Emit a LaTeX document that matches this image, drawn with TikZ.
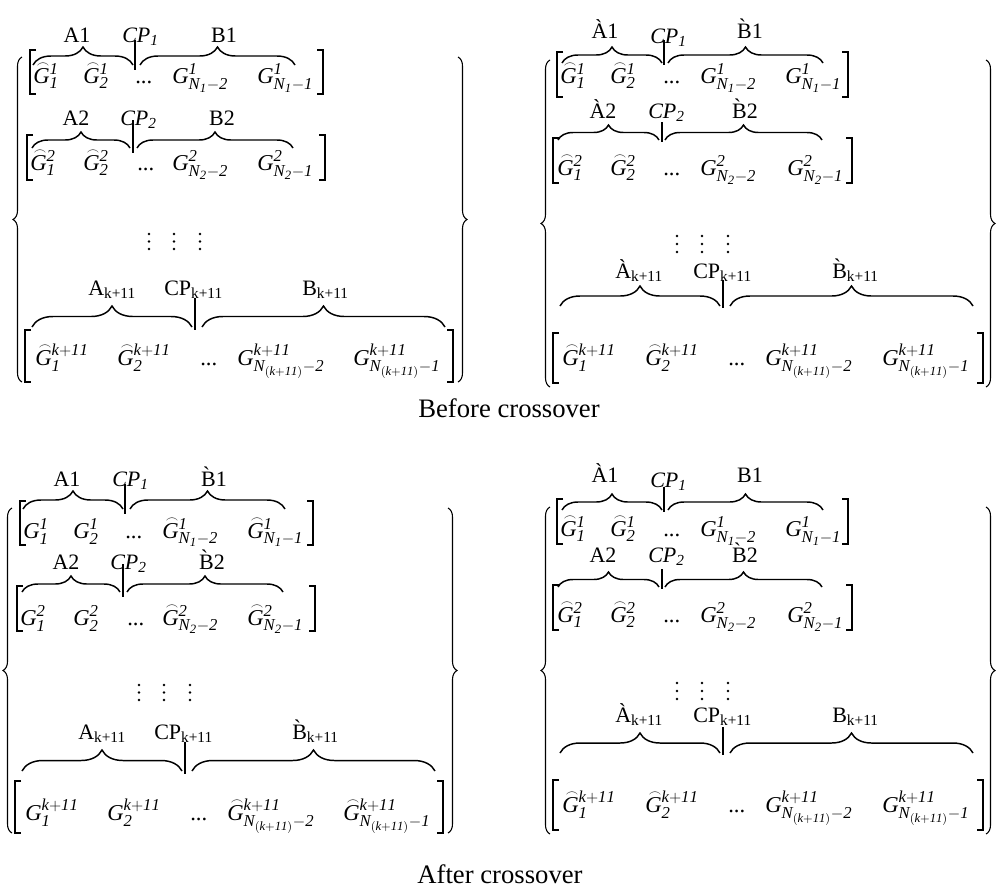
\documentclass[tikz,border=0pt]{standalone}
\usepackage{amsmath}
\usepackage{fontspec}
\setmainfont{Liberation Serif}
\usetikzlibrary{decorations.pathreplacing}
\DeclareMathSizes{17}{17}{12.5}{9.5}
\DeclareMathSizes{16.5}{16.5}{11.5}{9}
\newcommand{\mi}[1]{\mathit{#1}}
\newcommand{\pG}{\mathit{G}}
\newcommand{\hG}{\mathord{\mathit{G}\llap{\smash{\raisebox{0.7em}{$\scriptscriptstyle\frown$}}\kern0.02em}}}

\begin{document}
\begin{tikzpicture}[x=0.75pt,y=0.75pt,yscale=-1,xscale=1,
  elem/.style={inner sep=0pt, anchor=base west, font=\fontsize{17}{20}\selectfont},
  lbl/.style={inner sep=0pt, anchor=base, font=\fontsize{16.5}{19}\selectfont},
  lblw/.style={lbl, anchor=base west},
  captxt/.style={inner sep=0pt, anchor=base, font=\fontsize{20}{24}\selectfont},
  grpbrace/.style={decorate, decoration={brace, amplitude=#1}, line width=1.1pt},
  grpbrace/.default=12pt,
  bigbrace/.style={decorate, decoration={brace, amplitude=6.75pt}, line width=0.8pt},
  brk/.style={line width=1.2pt},
  cutline/.style={line width=1.1pt}]
  \useasboundingbox (0,0) rectangle (999,894);

  %%%%%%%% Before crossover, left %%%%%%%%
  \draw[bigbrace] (22,382) -- (22,57);
  \draw[bigbrace] (458,57) -- (458,382);
  % Row 1
  \draw[brk] (36,50) -- (30,50) -- (30,94) -- (36,94);
  \draw[brk] (317,50) -- (323,50) -- (323,94) -- (317,94);
  \node[elem] (tlga) at (33,83) {$\hG^{\mi1}_{\mi1}$};
  \node[elem] (tlgb) at (83,83) {$\hG^{\mi1}_{\mi2}$};
  \node[elem] (tlgc) at (135,83) {...};
  \node[elem] (tlgd) at (172,83) {$\pG^{\mi1}_{\mi{N}_{\mi1}-\mi2}$};
  \node[elem] (tlge) at (257,83) {$\pG^{\mi1}_{\mi{N}_{\mi1}-\mi1}$};
  \draw[grpbrace=13.5pt] (33,65) -- (133,65);
  \draw[grpbrace=13.5pt] (140,65) -- (295,65);
  \draw[cutline] (135,40) -- (135,70);
  \node[lbl] (tlA1) at (77,42) {A1};
  \node[lblw] (tlCP1) at (122,42) {$\mi{CP}_{\mi1}$};
  \node[lbl] (tlB1) at (224,42) {B1};
  % Row 2
  \draw[brk] (33,135) -- (27,135) -- (27,180) -- (33,180);
  \draw[brk] (319,135) -- (325,135) -- (325,180) -- (319,180);
  \node[elem] (tlha) at (30,170) {$\hG^{\mi2}_{\mi1}$};
  \node[elem] (tlhb) at (83,170) {$\hG^{\mi2}_{\mi2}$};
  \node[elem] (tlhc) at (137,170) {...};
  \node[elem] (tlhd) at (172,170) {$\pG^{\mi2}_{\mi{N}_{\mi2}-\mi2}$};
  \node[elem] (tlhe) at (257,170) {$\pG^{\mi2}_{\mi{N}_{\mi2}-\mi1}$};
  \draw[grpbrace] (32,148) -- (130,148);
  \draw[grpbrace] (137,148) -- (293,148);
  \draw[cutline] (133,120) -- (133,153);
  \node[lbl] (tlA2) at (76,125) {A2};
  \node[lblw] (tlCP2) at (120,125) {$\mi{CP}_{\mi2}$};
  \node[lbl] (tlB2) at (222,125) {B2};
  % dots
  \foreach \x in {149,174,200}
    \foreach \y in {234,241.5,249}
      \fill (\x,\y) circle (1.3);
  % Row k+11
  \draw[brk] (31,330) -- (25,330) -- (25,382) -- (31,382);
  \draw[brk] (447,330) -- (453,330) -- (453,382) -- (447,382);
  \node[elem] (tlka) at (35,365) {$\hG^{\mi{k+11}}_{\mi1}$};
  \node[elem] (tlkb) at (117,365) {$\hG^{\mi{k+11}}_{\mi2}$};
  \node[elem] (tlkc) at (200,365) {...};
  \node[elem] (tlkd) at (237,365) {$\pG^{\mi{k+11}}_{\mi{N}_{(\mi{k+11})}-\mi2}$};
  \node[elem] (tlke) at (353,365) {$\pG^{\mi{k+11}}_{\mi{N}_{(\mi{k+11})}-\mi1}$};
  \draw[grpbrace=15.75pt] (32,327) -- (192,327);
  \draw[grpbrace=15.75pt] (202,327) -- (445,327);
  \draw[cutline] (195,298) -- (195,330);
  \node[lblw] (tlAk) at (88,295) {A\textsubscript{k+11}};
  \node[lblw] (tlCPk) at (164,295) {CP\textsubscript{k+11}};
  \node[lblw] (tlBk) at (302,295) {B\textsubscript{k+11}};

  %%%%%%%% Before crossover, right %%%%%%%%
  \draw[bigbrace] (550,387) -- (550,60);
  \draw[bigbrace] (986,60) -- (986,387);
  % Row 1
  \draw[brk] (563,52) -- (557,52) -- (557,97) -- (563,97);
  \draw[brk] (842,52) -- (848,52) -- (848,97) -- (842,97);
  \node[elem] (trga) at (560,83) {$\hG^{\mi1}_{\mi1}$};
  \node[elem] (trgb) at (610,83) {$\hG^{\mi1}_{\mi2}$};
  \node[elem] (trgc) at (663,83) {...};
  \node[elem] (trgd) at (700,83) {$\pG^{\mi1}_{\mi{N}_{\mi1}-\mi2}$};
  \node[elem] (trge) at (785,83) {$\pG^{\mi1}_{\mi{N}_{\mi1}-\mi1}$};
  \draw[grpbrace] (562,63) -- (662,63);
  \draw[grpbrace] (668,63) -- (823,63);
  \draw[cutline] (664,40) -- (664,65);
  \node[lbl] (trA1) at (605,38) {\`{A}1};
  \node[lblw] (trCP1) at (650,43) {$\mi{CP}_{\mi1}$};
  \node[lbl] (trB1) at (750,38) {\`{B}1};
  % Row 2
  \draw[brk] (559,138) -- (553,138) -- (553,183) -- (559,183);
  \draw[brk] (846,138) -- (852,138) -- (852,183) -- (846,183);
  \node[elem] (trha) at (557,175) {$\hG^{\mi2}_{\mi1}$};
  \node[elem] (trhb) at (610,175) {$\hG^{\mi2}_{\mi2}$};
  \node[elem] (trhc) at (663,175) {...};
  \node[elem] (trhd) at (700,175) {$\pG^{\mi2}_{\mi{N}_{\mi2}-\mi2}$};
  \node[elem] (trhe) at (787,175) {$\pG^{\mi2}_{\mi{N}_{\mi2}-\mi1}$};
  \draw[grpbrace=11.25pt] (558,140) -- (659,140);
  \draw[grpbrace=11.25pt] (665,140) -- (822,140);
  \draw[cutline] (662,122) -- (662,142);
  \node[lbl] (trA2) at (603,118) {\`{A}2};
  \node[lblw] (trCP2) at (648,118) {$\mi{CP}_{\mi2}$};
  \node[lbl] (trB2) at (745,118) {\`{B}2};
  % dots
  \foreach \x in {677,702,728}
    \foreach \y in {236,244,252}
      \fill (\x,\y) circle (1.3);
  % Row k+11
  \draw[brk] (559,333) -- (553,333) -- (553,383) -- (559,383);
  \draw[brk] (977,333) -- (983,333) -- (983,383) -- (977,383);
  \node[elem] (trka) at (562,365) {$\hG^{\mi{k+11}}_{\mi1}$};
  \node[elem] (trkb) at (645,365) {$\hG^{\mi{k+11}}_{\mi2}$};
  \node[elem] (trkc) at (728,365) {...};
  \node[elem] (trkd) at (765,365) {$\pG^{\mi{k+11}}_{\mi{N}_{(\mi{k+11})}-\mi2}$};
  \node[elem] (trke) at (882,365) {$\pG^{\mi{k+11}}_{\mi{N}_{(\mi{k+11})}-\mi1}$};
  \draw[grpbrace=15pt] (560,306) -- (720,306);
  \draw[grpbrace=15pt] (730,306) -- (973,306);
  \draw[cutline] (723,280) -- (723,308);
  \node[lblw] (trAk) at (615,278) {\`{A}\textsubscript{k+11}};
  \node[lblw] (trCPk) at (693,278) {CP\textsubscript{k+11}};
  \node[lblw] (trBk) at (832,278) {\`{B}\textsubscript{k+11}};

  \node[captxt] (before) at (509,417) {Before crossover};

  %%%%%%%% After crossover, left %%%%%%%%
  \draw[bigbrace] (12,833) -- (12,508);
  \draw[bigbrace] (448,508) -- (448,833);
  % Row 1
  \draw[brk] (26,501) -- (20,501) -- (20,545) -- (26,545);
  \draw[brk] (307,501) -- (313,501) -- (313,545) -- (307,545);
  \node[elem] (blga) at (23,538) {$\pG^{\mi1}_{\mi1}$};
  \node[elem] (blgb) at (73,538) {$\pG^{\mi1}_{\mi2}$};
  \node[elem] (blgc) at (125,538) {...};
  \node[elem] (blgd) at (162,538) {$\hG^{\mi1}_{\mi{N}_{\mi1}-\mi2}$};
  \node[elem] (blge) at (247,538) {$\hG^{\mi1}_{\mi{N}_{\mi1}-\mi1}$};
  \draw[grpbrace=13.5pt] (23,509) -- (123,509);
  \draw[grpbrace=13.5pt] (130,509) -- (285,509);
  \draw[cutline] (125,484) -- (125,514);
  \node[lbl] (blA1) at (67,486) {A1};
  \node[lblw] (blCP1) at (112,486) {$\mi{CP}_{\mi1}$};
  \node[lbl] (blB1) at (214,486) {\`{B}1};
  % Row 2
  \draw[brk] (23,586) -- (17,586) -- (17,631) -- (23,631);
  \draw[brk] (309,586) -- (315,586) -- (315,631) -- (309,631);
  \node[elem] (blha) at (20,625) {$\pG^{\mi2}_{\mi1}$};
  \node[elem] (blhb) at (73,625) {$\pG^{\mi2}_{\mi2}$};
  \node[elem] (blhc) at (127,625) {...};
  \node[elem] (blhd) at (162,625) {$\hG^{\mi2}_{\mi{N}_{\mi2}-\mi2}$};
  \node[elem] (blhe) at (247,625) {$\hG^{\mi2}_{\mi{N}_{\mi2}-\mi1}$};
  \draw[grpbrace] (22,592) -- (120,592);
  \draw[grpbrace] (127,592) -- (283,592);
  \draw[cutline] (123,564) -- (123,597);
  \node[lbl] (blA2) at (66,569) {A2};
  \node[lblw] (blCP2) at (110,569) {$\mi{CP}_{\mi2}$};
  \node[lbl] (blB2) at (212,569) {\`{B}2};
  % dots
  \foreach \x in {139,164,190}
    \foreach \y in {685,692.5,700}
      \fill (\x,\y) circle (1.3);
  % Row k+11
  \draw[brk] (21,781) -- (15,781) -- (15,833) -- (21,833);
  \draw[brk] (437,781) -- (443,781) -- (443,833) -- (437,833);
  \node[elem] (blka) at (25,820) {$\pG^{\mi{k+11}}_{\mi1}$};
  \node[elem] (blkb) at (107,820) {$\pG^{\mi{k+11}}_{\mi2}$};
  \node[elem] (blkc) at (190,820) {...};
  \node[elem] (blkd) at (227,820) {$\hG^{\mi{k+11}}_{\mi{N}_{(\mi{k+11})}-\mi2}$};
  \node[elem] (blke) at (343,820) {$\hG^{\mi{k+11}}_{\mi{N}_{(\mi{k+11})}-\mi1}$};
  \draw[grpbrace=15.75pt] (22,771) -- (182,771);
  \draw[grpbrace=15.75pt] (192,771) -- (435,771);
  \draw[cutline] (185,742) -- (185,774);
  \node[lblw] (blAk) at (78,739) {A\textsubscript{k+11}};
  \node[lblw] (blCPk) at (154,739) {CP\textsubscript{k+11}};
  \node[lblw] (blBk) at (292,739) {\`{B}\textsubscript{k+11}};

  %%%%%%%% After crossover, right %%%%%%%%
  \draw[bigbrace] (550,834) -- (550,507);
  \draw[bigbrace] (986,507) -- (986,834);
  % Row 1
  \draw[brk] (563,499) -- (557,499) -- (557,544) -- (563,544);
  \draw[brk] (842,499) -- (848,499) -- (848,544) -- (842,544);
  \node[elem] (brga) at (560,536) {$\hG^{\mi1}_{\mi1}$};
  \node[elem] (brgb) at (610,536) {$\hG^{\mi1}_{\mi2}$};
  \node[elem] (brgc) at (663,536) {...};
  \node[elem] (brgd) at (700,536) {$\pG^{\mi1}_{\mi{N}_{\mi1}-\mi2}$};
  \node[elem] (brge) at (785,536) {$\pG^{\mi1}_{\mi{N}_{\mi1}-\mi1}$};
  \draw[grpbrace] (562,510) -- (662,510);
  \draw[grpbrace] (668,510) -- (823,510);
  \draw[cutline] (664,487) -- (664,512);
  \node[lbl] (brA1) at (605,482) {\`{A}1};
  \node[lblw] (brCP1) at (650,487) {$\mi{CP}_{\mi1}$};
  \node[lbl] (brB1) at (750,482) {B1};
  % Row 2
  \draw[brk] (559,585) -- (553,585) -- (553,630) -- (559,630);
  \draw[brk] (846,585) -- (852,585) -- (852,630) -- (846,630);
  \node[elem] (brha) at (557,622) {$\hG^{\mi2}_{\mi1}$};
  \node[elem] (brhb) at (610,622) {$\hG^{\mi2}_{\mi2}$};
  \node[elem] (brhc) at (663,622) {...};
  \node[elem] (brhd) at (700,622) {$\pG^{\mi2}_{\mi{N}_{\mi2}-\mi2}$};
  \node[elem] (brhe) at (787,622) {$\pG^{\mi2}_{\mi{N}_{\mi2}-\mi1}$};
  \draw[grpbrace=11.25pt] (558,587) -- (659,587);
  \draw[grpbrace=11.25pt] (665,587) -- (822,587);
  \draw[cutline] (662,569) -- (662,589);
  \node[lbl] (brA2) at (603,562) {A2};
  \node[lblw] (brCP2) at (648,562) {$\mi{CP}_{\mi2}$};
  \node[lbl] (brB2) at (745,562) {\`{B}2};
  % dots
  \foreach \x in {677,702,728}
    \foreach \y in {683,691,699}
      \fill (\x,\y) circle (1.3);
  % Row k+11
  \draw[brk] (559,780) -- (553,780) -- (553,830) -- (559,830);
  \draw[brk] (977,780) -- (983,780) -- (983,830) -- (977,830);
  \node[elem] (brka) at (562,812) {$\hG^{\mi{k+11}}_{\mi1}$};
  \node[elem] (brkb) at (645,812) {$\hG^{\mi{k+11}}_{\mi2}$};
  \node[elem] (brkc) at (728,812) {...};
  \node[elem] (brkd) at (765,812) {$\pG^{\mi{k+11}}_{\mi{N}_{(\mi{k+11})}-\mi2}$};
  \node[elem] (brke) at (882,812) {$\pG^{\mi{k+11}}_{\mi{N}_{(\mi{k+11})}-\mi1}$};
  \draw[grpbrace=15pt] (560,753) -- (720,753);
  \draw[grpbrace=15pt] (730,753) -- (973,753);
  \draw[cutline] (723,727) -- (723,755);
  \node[lblw] (brAk) at (615,722) {\`{A}\textsubscript{k+11}};
  \node[lblw] (brCPk) at (693,722) {CP\textsubscript{k+11}};
  \node[lblw] (brBk) at (832,722) {B\textsubscript{k+11}};

  \node[captxt] (after) at (500,883) {After crossover};
\end{tikzpicture}
\end{document}
